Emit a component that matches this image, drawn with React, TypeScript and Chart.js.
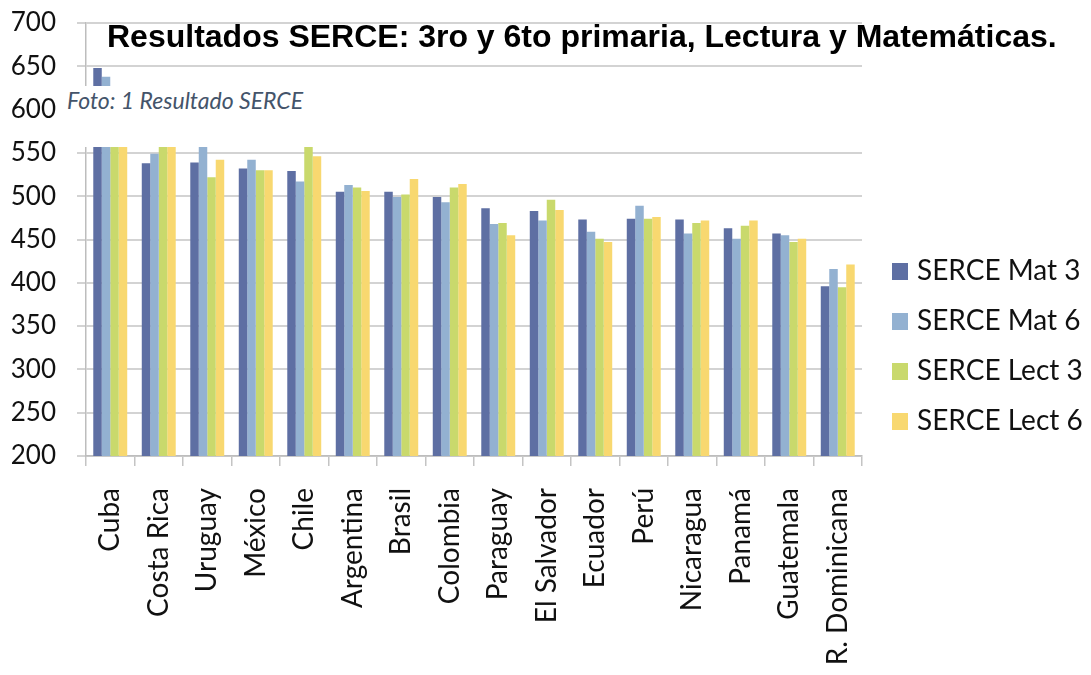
import React, { useEffect, useRef } from "react";
import { Chart, registerables } from "chart.js";

Chart.register(...registerables);

const categories = [
  "Cuba", "Costa Rica", "Uruguay", "México", "Chile", "Argentina", "Brasil", "Colombia",
  "Paraguay", "El Salvador", "Ecuador", "Perú", "Nicaragua", "Panamá", "Guatemala", "R. Dominicana",
];
const mat3 = [648, 538, 539, 532, 529, 505, 505, 499, 486, 483, 473, 474, 473, 463, 457, 396];
const mat6 = [638, 549, 578, 542, 517, 513, 499, 493, 468, 472, 459, 489, 457, 451, 455, 416];
const lect3 = [627, 563, 522, 530, 562, 510, 502, 510, 469, 496, 451, 474, 469, 466, 447, 395];
const lect6 = [563, 563, 542, 530, 546, 506, 520, 514, 455, 484, 447, 476, 472, 472, 451, 421];
const seriesNames = ["SERCE Mat 3", "SERCE Mat 6", "SERCE Lect 3", "SERCE Lect 6"];
const seriesColors = ["#5E6FA3", "#93B1D1", "#C9D96C", "#F8D870"];
const yTicks = [200, 250, 300, 350, 400, 450, 500, 550, 600, 650, 700];

const titleText = "Resultados SERCE: 3ro y 6to primaria, Lectura y Matemáticas.";
const captionText = "Foto: 1 Resultado SERCE";

const sideLegend = {
  id: "sideLegend",
  afterDraw(chart: any) {
    const { ctx, chartArea } = chart;
    ctx.save();
    chart.data.datasets.forEach((ds: any, i: number) => {
      const x = chartArea.right + 30;
      const base = 280 + i * 50;
      ctx.fillStyle = ds.backgroundColor;
      ctx.fillRect(x, base - 17, 16, 17);
      ctx.fillStyle = "#111111";
      ctx.font = "28px Lato";
      ctx.textBaseline = "alphabetic";
      ctx.textAlign = "left";
      ctx.fillText(ds.label, x + 25, base);
    });
    ctx.restore();
  },
};

export default function App() {
  const ref = useRef<HTMLCanvasElement | null>(null);

  useEffect(() => {
    document.body.style.margin = "0";
    const canvas = ref.current;
    if (!canvas) return;
    const datasets = [mat3, mat6, lect3, lect6].map((values, i) => ({
      label: seriesNames[i],
      data: values,
      backgroundColor: seriesColors[i],
      borderWidth: 0,
      categoryPercentage: 0.7,
      barPercentage: 1.0,
    }));
    const chart = new Chart(canvas, {
      type: "bar",
      data: { labels: categories, datasets },
      plugins: [sideLegend],
      options: {
        animation: false,
        responsive: false,
        layout: { padding: { left: 11, top: 23, right: 229, bottom: 0 } },
        plugins: {
          legend: { display: false },
          tooltip: { enabled: false },
          title: { display: false },
        },
        scales: {
          x: {
            afterFit: (axis: any) => {
              axis.height = 219;
            },
            grid: {
              display: true,
              drawOnChartArea: false,
              drawTicks: true,
              tickLength: 10,
              color: "#C4C4C4",
              lineWidth: 1.5,
              offset: true,
            },
            border: { display: true, color: "#BDBDBD", width: 1.5 },
            ticks: {
              minRotation: 90,
              maxRotation: 90,
              autoSkip: false,
              padding: 22,
              color: "#111111",
              font: { family: "Lato", size: 28 },
            },
          },
          y: {
            min: 200,
            max: 700,
            afterFit: (axis: any) => {
              axis.width = 75;
              axis.paddingTop = 0;
              axis.paddingBottom = 0;
            },
            afterBuildTicks: (axis: any) => {
              axis.ticks = yTicks.map((v) => ({ value: v }));
            },
            ticks: {
              padding: 21,
              color: "#111111",
              font: { family: "Lato", size: 26 },
            },
            grid: { color: "#D3D3D3", lineWidth: 2, tickLength: 9 },
            border: { color: "#BDBDBD", width: 1.5 },
          },
        },
      },
    });
    return () => chart.destroy();
  }, []);

  return (
    <div
      style={{
        position: "fixed",
        left: 0,
        top: 0,
        width: 1091,
        height: 675,
        background: "#ffffff",
        overflow: "hidden",
      }}
    >
      <canvas ref={ref} width={1091} height={675} style={{ display: "block" }} />
      <div
        style={{
          position: "absolute",
          left: 107,
          top: 20,
          font: 'bold 32px "Liberation Sans", Arial, sans-serif',
          lineHeight: "32px",
          color: "#000000",
          whiteSpace: "nowrap",
        }}
      >
        {titleText}
      </div>
      <div
        style={{
          position: "absolute",
          left: 63,
          top: 86,
          width: 1028,
          height: 61,
          background: "#ffffff",
        }}
      >
        <div
          style={{
            position: "absolute",
            left: 4,
            top: 3,
            font: 'italic 23px Lato, sans-serif',
            lineHeight: "23px",
            color: "#44546A",
            whiteSpace: "nowrap",
          }}
        >
          {captionText}
        </div>
      </div>
    </div>
  );
}
